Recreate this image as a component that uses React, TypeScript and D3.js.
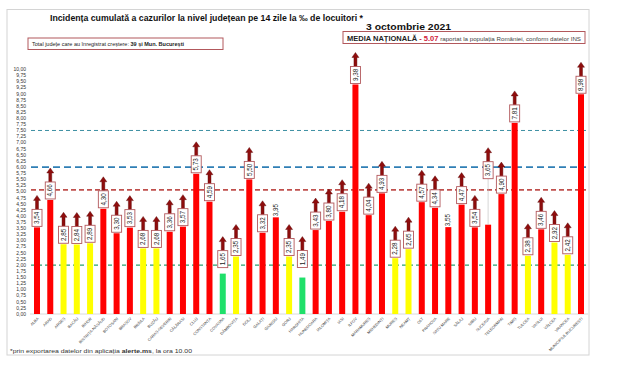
import React from 'react';
import * as d3 from 'd3';

const counties = [
  'ALBA', 'ARAD', 'ARGEȘ', 'BACĂU', 'BIHOR', 'BISTRIȚA-NĂSĂUD', 'BOTOȘANI', 'BRAȘOV', 'BRĂILA', 'BUZĂU',
  'CARAȘ-SEVERIN', 'CĂLĂRAȘI', 'CLUJ', 'CONSTANȚA', 'COVASNA', 'DÂMBOVIȚA', 'DOLJ', 'GALAȚI', 'GIURGIU', 'GORJ',
  'HARGHITA', 'HUNEDOARA', 'IALOMIȚA', 'IAȘI', 'ILFOV', 'MARAMUREȘ', 'MEHEDINȚI', 'MUREȘ', 'NEAMȚ', 'OLT',
  'PRAHOVA', 'SATU MARE', 'SĂLAJ', 'SIBIU', 'SUCEAVA', 'TELEORMAN', 'TIMIȘ', 'TULCEA', 'VASLUI', 'VÂLCEA',
  'VRANCEA', 'MUNICIPIUL BUCUREȘTI',
];
const incidence = [
  3.54, 4.66, 2.85, 2.84, 2.89, 4.30, 3.30, 3.53, 2.68, 2.68,
  3.36, 3.57, 5.73, 4.59, 1.65, 2.35, 5.50, 3.32, 3.95, 2.35,
  1.49, 3.43, 3.80, 4.18, 9.38, 4.04, 4.93, 2.28, 2.65, 4.57,
  4.34, 3.55, 4.47, 3.54, 3.65, 4.90, 7.81, 2.38, 3.46, 2.92,
  2.42, 8.98,
];
// counties without an increase (no arrow, no box)
const noIncrease = ['GIURGIU', 'SATU MARE'];
// reference lines: 7.5, 6, national average 5.07, 2
const refValues = [7.5, 6, 5.07, 2];
const nationalAvg = '5.07';
const yTickValues = d3.range(0, 41).map((i) => i * 0.25);

const W = 620;
const H = 372;

const fmt = (v: number) => d3.format('.2f')(v).replace('.', ',');

export default function App() {
  const x = d3.scalePoint<string>().domain(counties).range([37, 581]);
  const y = d3.scaleLinear().domain([0, 10]).range([314, 69.3]);
  const color = d3.scaleThreshold<number, string>().domain([1.7, 3]).range(['#1fe06a', '#ffff00', '#ff0000']);

  const refStyles = [
    { stroke: '#3d8fa3', width: 1, dash: '4 3' },
    { stroke: '#2f7fb5', width: 1.8, dash: '7 4' },
    { stroke: '#c0504d', width: 1.8, dash: '5 3' },
    { stroke: '#2aa070', width: 1.3, dash: '4 3' },
  ];

  const barW = 6;
  const boxW = 10;
  const boxH = 17;
  // labels moved up off their bar
  const lifted: Record<string, number> = { SUCEAVA: 45, COVASNA: 5, HARGHITA: 9 };

  const arrow = (cx: number, yb: number) => {
    const p = d3.path();
    p.moveTo(cx - 1.5, yb);
    p.lineTo(cx - 1.5, yb - 9);
    p.lineTo(cx - 3.5, yb - 9);
    p.lineTo(cx, yb - 14);
    p.lineTo(cx + 3.5, yb - 9);
    p.lineTo(cx + 1.5, yb - 9);
    p.lineTo(cx + 1.5, yb);
    p.closePath();
    return p.toString();
  };

  return (
    <svg width={W} height={H} style={{ position: 'absolute', left: 0, top: 0, background: '#fff' }}
      fontFamily="'Liberation Sans', Arial, sans-serif">
      <rect x={7} y={9.5} width={582} height={345.5} fill="#fff" stroke="#d4d4d4" strokeWidth={1} />

      <text x={50} y={21} fontSize={9.5} fontWeight="bold" fill="#111" textLength={313} lengthAdjust="spacingAndGlyphs">
        Incidența cumulată a cazurilor la nivel județean pe 14 zile la ‰ de locuitori *
      </text>
      <text x={366} y={30} fontSize={9.5} fontWeight="bold" fill="#111" textLength={85} lengthAdjust="spacingAndGlyphs">
        3 octombrie 2021
      </text>

      <rect x={343} y={31.5} width={242} height={12} fill="#fff" stroke="#b2585c" strokeWidth={1} />
      <text x={347} y={40.5} fontSize={6.3} fill="#222" textLength={234} lengthAdjust="spacingAndGlyphs">
        <tspan fontWeight="bold">MEDIA NAȚIONALĂ</tspan>
        <tspan fill="#d0203a" fontWeight="bold"> - {nationalAvg}</tspan>
        <tspan fontSize={5.2} fill="#444"> raportat la populația României, conform datelor INS</tspan>
      </text>

      <rect x={28} y={38} width={195} height={11.5} fill="#fff" stroke="#b2585c" strokeWidth={1} />
      <text x={32} y={45.8} fontSize={5.3} fill="#222" textLength={152} lengthAdjust="spacingAndGlyphs">
        Total județe care au înregistrat creștere:  <tspan fontWeight="bold">39 și Mun. București</tspan>
      </text>

      {yTickValues.map((t) => (
        <text key={t} x={26} y={y(t)} dy="0.35em" fontSize={5} textAnchor="end" fill="#333">
          {fmt(t)}
        </text>
      ))}

      <line x1={30} x2={588} y1={y(0)} y2={y(0)} stroke="#d0d0d0" strokeWidth={0.8} />

      {refValues.map((v, i) => (
        <line key={v} x1={31} x2={586} y1={y(v)} y2={y(v)} stroke={refStyles[i].stroke}
          strokeWidth={refStyles[i].width} strokeDasharray={refStyles[i].dash} />
      ))}

      {counties.map((c, i) => (
        <rect key={c} x={(x(c) as number) - barW / 2} y={y(incidence[i])} width={barW}
          height={y(0) - y(incidence[i])} fill={color(incidence[i])} />
      ))}

      {counties.map((c, i) => {
        const cx = x(c) as number;
        const top = y(incidence[i]);
        if (noIncrease.includes(c)) {
          return (
            <text key={c} transform={`translate(${cx + 2},${top - 1}) rotate(-90)`} fontSize={6.3} fill="#222">
              {fmt(incidence[i])}
            </text>
          );
        }
        const lift = lifted[c] || 0;
        const boxBottom = top - 1 - lift;
        const boxTop = boxBottom - boxH;
        return (
          <g key={c}>
            {lift > 20 && <line x1={cx} x2={cx} y1={boxBottom} y2={top} stroke="#bbb" strokeWidth={0.6} />}
            <path d={arrow(cx, boxTop)} fill="#8e0d0d" stroke="#5c0606" strokeWidth={0.4} />
            <rect x={cx - boxW / 2} y={boxTop} width={boxW} height={boxH} fill="#fff" stroke="#b2585c" strokeWidth={0.9} />
            <text transform={`translate(${cx},${boxTop + boxH / 2}) rotate(-90)`} dy="0.35em" fontSize={6.3}
              textAnchor="middle" fill="#222">
              {fmt(incidence[i])}
            </text>
          </g>
        );
      })}

      {counties.map((c) => (
        <text key={c} transform={`translate(${(x(c) as number) + 2},${y(0) + 5}) rotate(-45)`} fontSize={3.9}
          textAnchor="end" fill="#444">
          {c}
        </text>
      ))}

      <text x={10} y={352.5} fontSize={6} fill="#333" textLength={182} lengthAdjust="spacingAndGlyphs">
        *prin exportarea datelor din aplicația <tspan fontWeight="bold">alerte.ms</tspan>, la ora 10.00
      </text>
    </svg>
  );
}
